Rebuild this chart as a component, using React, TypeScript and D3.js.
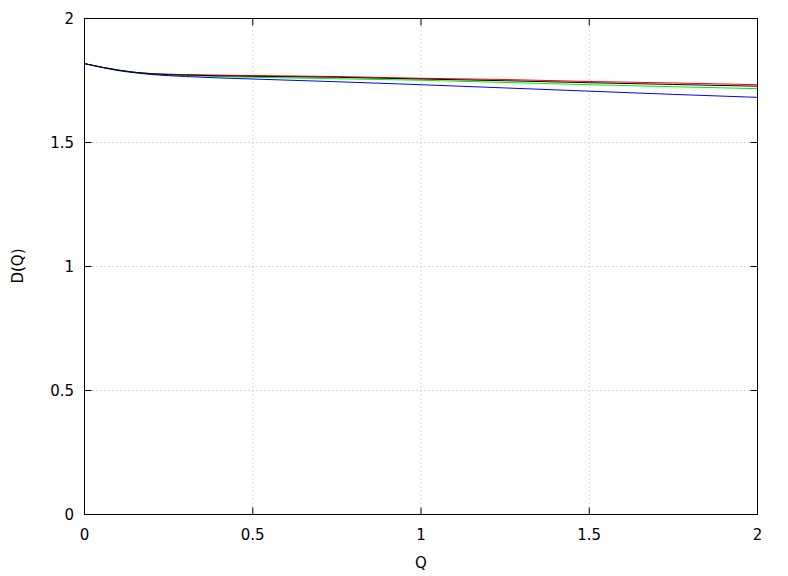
import React from "react";
import * as d3 from "d3";

const qValues = [0, 0.05, 0.1, 0.15, 0.2, 0.3, 0.5, 0.75, 1, 1.25, 1.5, 1.75, 2];
const redSeries = [1.818, 1.804, 1.792, 1.783, 1.778, 1.774, 1.770, 1.766, 1.759, 1.754, 1.746, 1.740, 1.733];
const blackSeries = [1.818, 1.804, 1.792, 1.783, 1.777, 1.772, 1.767, 1.763, 1.756, 1.749, 1.741, 1.734, 1.727];
const greenSeries = [1.818, 1.804, 1.792, 1.783, 1.776, 1.770, 1.763, 1.757, 1.751, 1.742, 1.733, 1.725, 1.717];
const blueSeries = [1.818, 1.803, 1.790, 1.781, 1.774, 1.766, 1.756, 1.745, 1.733, 1.720, 1.707, 1.694, 1.682];
const xTicks = [0, 0.5, 1, 1.5, 2];
const yTicks = [0, 0.5, 1, 1.5, 2];
const xTickLabels = ["0", "0.5", "1", "1.5", "2"];
const yTickLabels = ["0", "0.5", "1", "1.5", "2"];

const series = [
  { name: "red", values: redSeries, color: "#ff0000" },
  { name: "green", values: greenSeries, color: "#00ee00" },
  { name: "blue", values: blueSeries, color: "#0000ff" },
  { name: "black", values: blackSeries, color: "#000000" },
];

export default function App() {
  const W = 788, H = 576;
  const left = 84.5, right = 757.5, top = 18.5, bottom = 514.5;
  const x = d3.scaleLinear().domain([0, 2]).range([left, right]);
  const y = d3.scaleLinear().domain([0, 2]).range([bottom, top]);
  const font = "'DejaVu Sans', sans-serif";
  const line = d3
    .line<number>()
    .x((_, i) => x(qValues[i]))
    .y((d) => y(d))
    .curve(d3.curveMonotoneX);
  const tick = 7;
  return (
    <svg
      width={W}
      height={H}
      style={{ position: "absolute", left: 0, top: 0, background: "#fff" }}
      fontFamily={font}
    >
      <rect x={0} y={0} width={W} height={H} fill="#fff" />
      {/* grid */}
      {xTicks.slice(1, -1).map((t) => (
        <line key={"gx" + t} x1={x(t)} x2={x(t)} y1={top} y2={bottom} stroke="#b0b0b0" strokeWidth={1} strokeDasharray="1,3" />
      ))}
      {yTicks.slice(1, -1).map((t) => (
        <line key={"gy" + t} x1={left} x2={right} y1={y(t)} y2={y(t)} stroke="#b0b0b0" strokeWidth={1} strokeDasharray="1,3" />
      ))}
      {/* ticks */}
      {xTicks.map((t) => (
        <g key={"tx" + t}>
          <line x1={x(t)} x2={x(t)} y1={bottom} y2={bottom - tick} stroke="#000" />
          <line x1={x(t)} x2={x(t)} y1={top} y2={top + tick} stroke="#000" />
        </g>
      ))}
      {yTicks.map((t) => (
        <g key={"ty" + t}>
          <line x1={left} x2={left + tick} y1={y(t)} y2={y(t)} stroke="#000" />
          <line x1={right} x2={right - tick} y1={y(t)} y2={y(t)} stroke="#000" />
        </g>
      ))}
      {/* series */}
      {series.map((s) => (
        <path key={s.name} d={line(s.values) || ""} fill="none" stroke={s.color} strokeWidth={1} />
      ))}
      {/* frame */}
      <rect x={left} y={top} width={right - left} height={bottom - top} fill="none" stroke="#000" strokeWidth={1} />
      {/* tick labels */}
      {xTicks.map((t, i) => (
        <text key={"lx" + t} x={x(t)} y={540} textAnchor="middle" fontSize={15} fill="#000">
          {xTickLabels[i]}
        </text>
      ))}
      {yTicks.map((t, i) => (
        <text key={"ly" + t} x={74} y={y(t) + 5.5} textAnchor="end" fontSize={15} fill="#000">
          {yTickLabels[i]}
        </text>
      ))}
      <text x={421} y={568} textAnchor="middle" fontSize={15} fill="#000">Q</text>
      <text transform={`translate(23,266) rotate(-90)`} textAnchor="middle" fontSize={15} fill="#000">D(Q)</text>
    </svg>
  );
}
